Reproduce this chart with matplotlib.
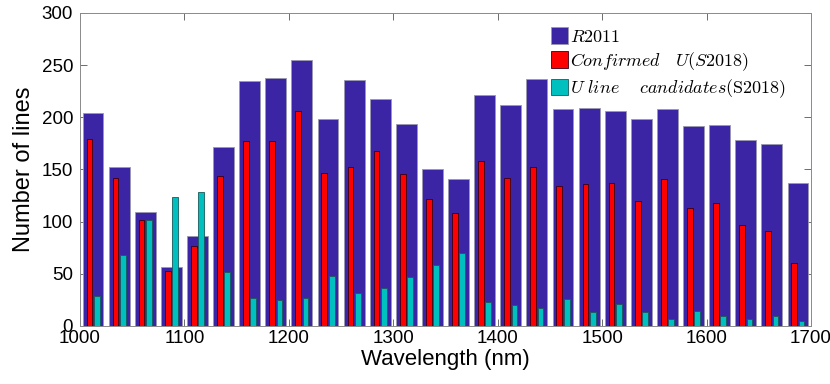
import numpy as np
import matplotlib
matplotlib.use('Agg')
import matplotlib.pyplot as plt

plt.rcParams['font.family'] = ['Liberation Sans', 'DejaVu Sans']
plt.rcParams['mathtext.fontset'] = 'cm'

# centros dos intervalos de 25 nm
comprimento_onda = np.arange(1012.5, 1700, 25)

r2011 = [204, 152, 109, 57, 86, 172, 235, 238, 255, 198, 236, 218, 194, 150, 141,
         221, 212, 237, 208, 209, 206, 198, 208, 192, 193, 178, 174, 137]
confirmadas = [179, 142, 102, 53, 77, 144, 177, 177, 206, 147, 152, 168, 146, 122, 108,
               158, 142, 152, 134, 136, 137, 120, 141, 113, 118, 97, 91, 60]
candidatas = [29, 68, 102, 124, 128, 52, 27, 25, 27, 48, 32, 36, 47, 58, 70,
              23, 20, 17, 26, 13, 21, 13, 7, 14, 10, 7, 10, 5]

fig = plt.figure(figsize=(8.3, 3.84), dpi=100)
ax = fig.add_axes([80/830, 1 - 326/384, 731/830, 313/384])

ax.bar(comprimento_onda, r2011, width=20, color='#3c25a5', edgecolor='#9a98b0',
       linewidth=0.6, label=r'$R2011$', zorder=2)
ax.bar(comprimento_onda - 3.5, confirmadas, width=5.5, color='#ff0000', edgecolor='#3a0010',
       linewidth=0.6, label=r'$Confirmed\quad U(S2018)$', zorder=3)
ax.bar(comprimento_onda + 3.5, candidatas, width=5.5, color='#00bfbf', edgecolor='#1a5a5a',
       linewidth=0.6, label=r'$U\ line\quad\ candidates$' + r'$\mathrm{(S2018)}$', zorder=3)

ax.set_xlim(1000, 1700)
ax.set_ylim(0, 300)
ax.set_xticks(range(1000, 1701, 100))
ax.set_yticks(range(0, 301, 50))
ax.tick_params(direction='in', top=True, right=True, length=5, width=0.6,
               color='#555555', labelsize=13.5)
ax.tick_params(axis='y', pad=5)
ax.tick_params(axis='x', pad=3)
for s in ax.spines.values():
    s.set_color('#8a8a8a')
    s.set_linewidth(0.7)

ax.set_xlabel('Wavelength (nm)', fontsize=16, labelpad=1)
ax.set_ylabel('Number of lines', fontsize=17, labelpad=5)

ax.legend(loc='upper left', bbox_to_anchor=(0.645, 0.955), frameon=False,
          fontsize=13, handlelength=0.9, handleheight=1.05, handletextpad=0.15,
          labelspacing=0.25, borderaxespad=0, borderpad=0)

fig.savefig('out.png', dpi=100)
